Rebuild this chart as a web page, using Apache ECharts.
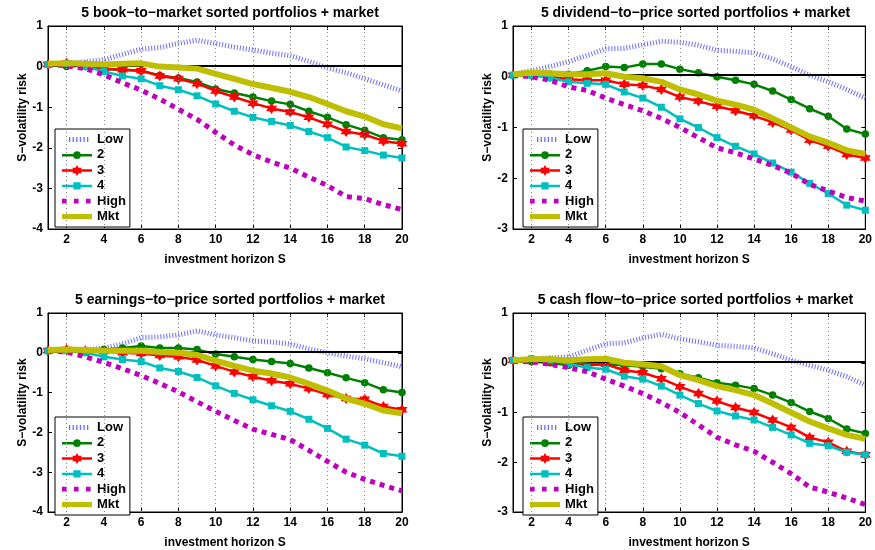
<!DOCTYPE html>
<html><head><meta charset="utf-8">
<script src="https://cdn.jsdelivr.net/npm/echarts@6/dist/echarts.min.js"></script>
<style>html,body{margin:0;padding:0;background:#fff}#c{width:875px;height:550px}</style>
</head><body><div id="c"></div>
<script>
// investment horizon S
const horizon = [1,2,3,4,5,6,7,8,9,10,11,12,13,14,15,16,17,18,19,20];
const xTicks = [2,4,6,8,10,12,14,16,18,20];
const seriesNames = ['Low','2','3','4','High','Mkt'];
const titles = [
  '5 book\u2212to\u2212market sorted portfolios + market',
  '5 dividend\u2212to\u2212price sorted portfolios + market',
  '5 earnings\u2212to\u2212price sorted portfolios + market',
  '5 cash flow\u2212to\u2212price sorted portfolios + market'
];
const yMins = [-4,-3,-4,-3];
const yMaxs = [1,1,1,1];
const zeroLine = 0.03;

// book-to-market
const bmLow  = [0.05,0.07,0.12,0.17,0.30,0.43,0.47,0.57,0.65,0.57,0.48,0.41,0.33,0.27,0.13,-0.03,-0.15,-0.30,-0.45,-0.60];
const bm2    = [0.05,0.00,0.02,-0.06,-0.08,-0.10,-0.22,-0.28,-0.38,-0.55,-0.65,-0.75,-0.85,-0.93,-1.10,-1.25,-1.43,-1.57,-1.75,-1.80];
const bm3    = [0.05,0.08,0.03,-0.05,-0.08,-0.10,-0.23,-0.30,-0.42,-0.60,-0.75,-0.90,-1.03,-1.12,-1.25,-1.42,-1.60,-1.68,-1.83,-1.90];
const bm4    = [0.05,0.08,0.00,-0.12,-0.23,-0.30,-0.47,-0.57,-0.72,-0.92,-1.10,-1.25,-1.35,-1.45,-1.60,-1.75,-1.98,-2.07,-2.18,-2.25];
const bmHigh = [0.05,0.02,-0.05,-0.20,-0.40,-0.58,-0.80,-1.05,-1.30,-1.62,-1.93,-2.17,-2.35,-2.50,-2.72,-2.93,-3.20,-3.25,-3.40,-3.52];
const bmMkt  = [0.07,0.08,0.07,0.05,0.07,0.08,0.00,-0.02,-0.05,-0.18,-0.30,-0.43,-0.52,-0.62,-0.75,-0.92,-1.10,-1.23,-1.42,-1.52];

// dividend-to-price
const dpLow  = [0.05,0.12,0.20,0.30,0.42,0.55,0.56,0.63,0.70,0.68,0.62,0.52,0.50,0.47,0.35,0.20,0.03,-0.10,-0.25,-0.42];
const dp2    = [0.03,0.05,0.05,0.05,0.12,0.20,0.18,0.25,0.25,0.15,0.08,0.00,-0.07,-0.15,-0.28,-0.45,-0.63,-0.78,-1.03,-1.13];
const dp3    = [0.03,0.03,0.00,-0.05,-0.07,-0.07,-0.15,-0.17,-0.25,-0.40,-0.48,-0.58,-0.67,-0.77,-0.90,-1.05,-1.25,-1.37,-1.53,-1.60];
const dp4    = [0.03,0.03,-0.02,-0.10,-0.13,-0.15,-0.30,-0.42,-0.60,-0.83,-1.00,-1.20,-1.37,-1.52,-1.70,-1.88,-2.10,-2.30,-2.53,-2.63];
const dpHigh = [0.03,0.00,-0.07,-0.20,-0.27,-0.42,-0.55,-0.67,-0.82,-1.00,-1.20,-1.40,-1.50,-1.62,-1.75,-1.90,-2.12,-2.25,-2.38,-2.45];
const dpMkt  = [0.05,0.08,0.07,0.05,0.05,0.07,0.00,-0.03,-0.10,-0.25,-0.35,-0.47,-0.55,-0.65,-0.82,-1.00,-1.18,-1.30,-1.45,-1.52];

// earnings-to-price
const epLow  = [0.05,0.07,0.08,0.12,0.22,0.38,0.40,0.45,0.55,0.45,0.38,0.30,0.27,0.22,0.10,0.00,-0.08,-0.15,-0.25,-0.35];
const ep2    = [0.05,0.07,0.05,0.08,0.12,0.17,0.12,0.12,0.08,-0.03,-0.10,-0.17,-0.22,-0.27,-0.38,-0.50,-0.63,-0.75,-0.93,-1.00];
const ep3    = [0.05,0.08,0.05,0.03,0.00,-0.02,-0.07,-0.10,-0.18,-0.33,-0.48,-0.60,-0.70,-0.78,-0.90,-1.05,-1.15,-1.17,-1.35,-1.43];
const ep4    = [0.05,0.05,0.00,-0.10,-0.17,-0.22,-0.38,-0.47,-0.62,-0.83,-1.02,-1.18,-1.33,-1.47,-1.67,-1.90,-2.17,-2.32,-2.53,-2.60];
const epHigh = [0.05,0.02,-0.10,-0.24,-0.40,-0.57,-0.77,-0.98,-1.23,-1.47,-1.70,-1.92,-2.05,-2.18,-2.45,-2.73,-3.00,-3.18,-3.33,-3.47];
const epMkt  = [0.07,0.08,0.07,0.05,0.05,0.05,0.02,0.00,-0.05,-0.20,-0.33,-0.45,-0.52,-0.62,-0.78,-0.95,-1.15,-1.28,-1.45,-1.52];

// cash flow-to-price
const cfLow  = [0.05,0.08,0.10,0.12,0.25,0.38,0.40,0.50,0.57,0.48,0.42,0.35,0.33,0.30,0.18,0.05,-0.05,-0.15,-0.28,-0.45];
const cf2    = [0.05,0.02,0.00,-0.05,-0.05,-0.03,-0.05,-0.08,-0.12,-0.22,-0.30,-0.40,-0.45,-0.52,-0.65,-0.80,-0.98,-1.12,-1.33,-1.42];
const cf3    = [0.05,0.05,0.03,0.00,-0.02,-0.03,-0.15,-0.20,-0.32,-0.48,-0.62,-0.77,-0.90,-1.00,-1.15,-1.30,-1.50,-1.60,-1.78,-1.85];
const cf4    = [0.05,0.08,0.05,-0.02,-0.10,-0.13,-0.27,-0.33,-0.47,-0.65,-0.82,-0.97,-1.07,-1.15,-1.30,-1.45,-1.62,-1.67,-1.80,-1.85];
const cfHigh = [0.03,0.02,-0.03,-0.10,-0.18,-0.33,-0.47,-0.62,-0.80,-1.00,-1.25,-1.50,-1.65,-1.78,-2.00,-2.23,-2.50,-2.60,-2.72,-2.85];
const cfMkt  = [0.05,0.07,0.07,0.05,0.07,0.08,0.00,-0.03,-0.07,-0.25,-0.35,-0.47,-0.55,-0.65,-0.82,-1.00,-1.18,-1.32,-1.45,-1.53];

const panels = [
  [bmLow,bm2,bm3,bm4,bmHigh,bmMkt],
  [dpLow,dp2,dp3,dp4,dpHigh,dpMkt],
  [epLow,ep2,ep3,ep4,epHigh,epMkt],
  [cfLow,cf2,cf3,cf4,cfHigh,cfMkt]
];

// layout (pixels)
const grids = [
  {left:48, top:26, width:354, height:203},
  {left:513, top:26, width:355, height:203},
  {left:48, top:313, width:354, height:204},
  {left:513, top:313, width:355, height:202}
];
const legendPos = [
  {left:55, top:129},{left:523, top:129},{left:55, top:417},{left:523, top:417}
];

const FONT = 'Liberation Sans';

// ---- marker / legend icon shapes (clockwise subpaths so they never cancel) ----
function rectP(x, y, w, h) { return `M${x},${y}h${w}v${h}h${-w}z`; }
function circleP(cx, cy, r) {
  return `M${cx - r},${cy}a${r},${r} 0 1,1 ${2*r},0a${r},${r} 0 1,1 ${-2*r},0z`;
}
function starP(cx, cy, R) {
  const r = R / Math.sqrt(3);
  let d = '';
  for (let i = 0; i < 12; i++) {
    const a = (-90 + i * 30) * Math.PI / 180;
    const rr = i % 2 === 0 ? R : r;
    d += (i === 0 ? 'M' : 'L') + (cx + rr * Math.cos(a)).toFixed(2) + ',' + (cy + rr * Math.sin(a)).toFixed(2);
  }
  return d + 'z';
}
const IW = 30, IH = 12;
const frame = rectP(0, 0, 0.01, 0.01) + rectP(IW - 0.01, IH - 0.01, 0.01, 0.01);
const legendIcons = [
  'path://' + frame + [0,1,2,3,4,5].map(i => rectP(7 + i*3.6, 3.5, 1.3, 5)).join(''),
  'path://' + frame + rectP(0, 5, IW, 2.5) + circleP(15, 6.25, 3.8),
  'path://' + frame + rectP(0, 5, IW, 2.5) + starP(15, 6.25, 5.5),
  'path://' + frame + rectP(0, 5, IW, 2.5) + rectP(11.4, 2.65, 7.2, 7.2),
  'path://' + frame + rectP(0, 3.75, 4.6, 4.6) + rectP(12, 3.75, 4.6, 4.6) + rectP(24, 3.75, 4.6, 4.6),
  'path://' + frame + rectP(0, 3.5, IW, 5)
];
const starSymbol = 'path://' + starP(0, 0, 10);

const styles = [
  {color:'#6b6bff', lineStyle:{width:5, type:[1,2]}, symbol:'none'},
  {color:'#008000', lineStyle:{width:2.5}, symbol:'circle', symbolSize:7.5},
  {color:'#ff0000', lineStyle:{width:2.5}, symbol:starSymbol, symbolSize:11},
  {color:'#00bfbf', lineStyle:{width:2.5}, symbol:'rect', symbolSize:7},
  {color:'#bf00bf', lineStyle:{width:5, type:[5,5]}, symbol:'none'},
  {color:'#bfbf00', lineStyle:{width:6}, symbol:'none'}
];

const option = {
  animation:false,
  backgroundColor:'#fff',
  title:[], grid:[], xAxis:[], yAxis:[], legend:[], series:[]
};

panels.forEach((data, p) => {
  const g = grids[p];
  option.grid.push({left:g.left, top:g.top, width:g.width, height:g.height,
    show:true, borderColor:'#000', borderWidth:1, backgroundColor:'#fff'});
  option.title.push({text:titles[p], left:g.left + g.width/2, top:g.top - 25, textAlign:'center',
    textStyle:{fontFamily:FONT, fontWeight:'bold', fontSize:14, color:'#000'}});
  const axCommon = {min:1, max:20, gridIndex:p};
  option.xAxis.push(Object.assign({}, axCommon, {
    type:'value', position:'bottom',
    name:'investment horizon S', nameLocation:'middle', nameGap:25,
    nameTextStyle:{fontFamily:FONT, fontWeight:'bold', fontSize:12, color:'#000'},
    axisLine:{show:true, onZero:false, lineStyle:{color:'#000', width:1}},
    axisTick:{show:true, inside:true, length:4, customValues:xTicks, lineStyle:{color:'#000'}},
    axisLabel:{show:true, margin:5, customValues:xTicks, fontFamily:FONT, fontWeight:'bold', fontSize:12, color:'#000'},
    splitLine:{show:false}
  }));
  option.xAxis.push(Object.assign({}, axCommon, {
    type:'value', position:'top',
    axisLine:{show:true, onZero:false, lineStyle:{color:'#000', width:1}},
    axisTick:{show:true, inside:true, length:4, customValues:xTicks, lineStyle:{color:'#000'}},
    axisLabel:{show:false}, splitLine:{show:false}
  }));
  const yCommon = {type:'value', min:yMins[p], max:yMaxs[p], interval:1, gridIndex:p};
  option.yAxis.push(Object.assign({}, yCommon, {
    position:'left',
    name:'S\u2212volatility risk', nameLocation:'middle', nameGap:19, nameRotate:90,
    nameTextStyle:{fontFamily:FONT, fontWeight:'bold', fontSize:12, color:'#000', padding:[0,0,0,20]},
    axisLine:{show:true, onZero:false, lineStyle:{color:'#000', width:1}},
    axisTick:{show:true, inside:true, length:4, lineStyle:{color:'#000'}},
    axisLabel:{show:true, margin:5, fontFamily:FONT, fontWeight:'bold', fontSize:12, color:'#000'},
    splitLine:{show:false}
  }));
  option.yAxis.push(Object.assign({}, yCommon, {
    position:'right',
    axisLine:{show:true, onZero:false, lineStyle:{color:'#000', width:1}},
    axisTick:{show:true, inside:true, length:4, lineStyle:{color:'#000'}},
    axisLabel:{show:false}, splitLine:{show:false}
  }));
  const xi = p*2, yi = p*2;
  // vertical dotted grid lines at the tick positions
  option.series.push({
    type:'line', xAxisIndex:xi, yAxisIndex:yi, data:[], silent:true, z:1,
    markLine:{silent:true, symbol:['none','none'], label:{show:false}, animation:false,
      lineStyle:{color:'#888', width:1, type:[1,3]},
      data: xTicks.filter(v => v < 20).map(v => ({xAxis:v}))}
  });
  seriesNames.forEach((nm, k) => {
    const st = styles[k];
    option.series.push({
      name:nm, type:'line', xAxisIndex:xi, yAxisIndex:yi, z:2+k,
      data: horizon.map((s,i) => [s, data[k][i]]),
      symbol:st.symbol, symbolSize:st.symbolSize || 0, showSymbol:st.symbol !== 'none',
      itemStyle:{color:st.color, borderColor:st.color, borderWidth:0},
      lineStyle:Object.assign({color:st.color}, st.lineStyle),
      emphasis:{disabled:true}
    });
  });
  // horizontal black reference line
  option.series.push({
    type:'line', xAxisIndex:xi, yAxisIndex:yi, data:[], silent:true, z:20,
    markLine:{silent:true, symbol:['none','none'], label:{show:false}, animation:false,
      lineStyle:{color:'#000', width:2, type:'solid'},
      data:[{yAxis:zeroLine}]}
  });
  option.legend.push({
    data:seriesNames.map((nm, k) => ({name:nm, icon:legendIcons[k],
      itemStyle:{color:styles[k].color, borderWidth:0}})),
    orient:'vertical', left:legendPos[p].left, top:legendPos[p].top,
    backgroundColor:'#fff', borderColor:'#000', borderWidth:1, padding:[4,4,4,7],
    itemGap:2.4, itemWidth:IW, itemHeight:IH, selectedMode:false, symbolKeepAspect:false,
    textStyle:{fontFamily:FONT, fontWeight:'bold', fontSize:13, color:'#000'}
  });
});

const chart = echarts.init(document.getElementById('c'), null, {renderer:'canvas'});
chart.setOption(option);
</script>
</body></html>
